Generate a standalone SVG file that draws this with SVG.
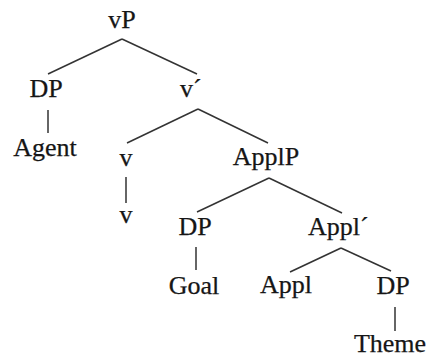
<svg xmlns="http://www.w3.org/2000/svg" width="429" height="358" viewBox="0 0 429 358">
<style>
text{font-family:"Liberation Serif","Times New Roman",serif;font-size:26px;fill:#161616;stroke:#161616;stroke-width:0.25}
.m{text-anchor:middle}
#edges line{stroke:#333333;stroke-width:1.5;fill:none}
</style>
<rect width="429" height="358" fill="#ffffff"/>
<g id="edges">
<line x1="122" y1="39" x2="48" y2="74"/>
<line x1="122" y1="39" x2="197" y2="74"/>
<line x1="48" y1="110" x2="48" y2="133"/>
<line x1="198" y1="109" x2="127" y2="143"/>
<line x1="198" y1="109" x2="268" y2="143"/>
<line x1="126" y1="177" x2="126" y2="203"/>
<line x1="269" y1="178" x2="197" y2="212"/>
<line x1="269" y1="178" x2="342" y2="213"/>
<line x1="196" y1="247" x2="196" y2="270"/>
<line x1="341" y1="248" x2="290" y2="272"/>
<line x1="341" y1="248" x2="391" y2="271"/>
<line x1="395" y1="307" x2="395" y2="331"/>
</g>
<g id="n-vP"><text class="m" x="122" y="28">vP</text></g>
<g id="n-DP1"><text class="m" x="46" y="97">DP</text></g>
<g id="n-vbar"><text x="180" y="97">v´</text></g>
<g id="n-Agent"><text class="m" x="45" y="156">Agent</text></g>
<g id="n-v1"><text class="m" x="126" y="166">v</text></g>
<g id="n-ApplP"><text class="m" x="266" y="165">ApplP</text></g>
<g id="n-v2"><text class="m" x="126" y="223">v</text></g>
<g id="n-DP2"><text class="m" x="195" y="235">DP</text></g>
<g id="n-Applbar"><text x="308" y="235">Appl´</text></g>
<g id="n-Goal"><text class="m" x="194" y="294">Goal</text></g>
<g id="n-Appl"><text class="m" x="286" y="293">Appl</text></g>
<g id="n-DP3"><text class="m" x="393" y="294">DP</text></g>
<g id="n-Theme"><text class="m" x="390" y="352">Theme</text></g>
</svg>
